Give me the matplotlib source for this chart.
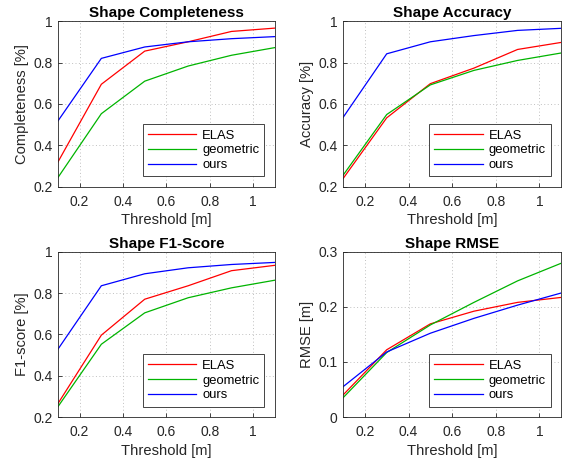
import numpy as np
from matplotlib import pyplot as plt

plt.rcParams['font.family'] = ['Liberation Sans', 'DejaVu Sans']

# Thresholds on the x axis
thresholds = [0.1, 0.3, 0.5, 0.7, 0.9, 1.1]
methods = ["ELAS", "geometric", "ours"]

# Values
completeness_elas = [0.32, 0.695, 0.855, 0.90, 0.95, 0.966]
completeness_geo = [0.245, 0.553, 0.71, 0.783, 0.835, 0.872]
completeness_ours = [0.518, 0.82, 0.875, 0.90, 0.915, 0.925]

accuracy_elas = [0.24, 0.533, 0.698, 0.773, 0.863, 0.897]
accuracy_geo = [0.256, 0.549, 0.692, 0.762, 0.81, 0.846]
accuracy_ours = [0.535, 0.842, 0.90, 0.93, 0.955, 0.965]

f1_elas = [0.265, 0.596, 0.77, 0.835, 0.908, 0.934]
f1_geo = [0.25, 0.552, 0.704, 0.777, 0.825, 0.862]
f1_ours = [0.528, 0.835, 0.893, 0.922, 0.938, 0.948]

rmse_elas = [0.04, 0.122, 0.169, 0.192, 0.208, 0.217]
rmse_geo = [0.035, 0.117, 0.167, 0.208, 0.247, 0.279]
rmse_ours = [0.055, 0.118, 0.152, 0.179, 0.203, 0.225]

colors = ["#ff0000", "#00b400", "#0000ff"]

panels = [
    ("Shape Completeness", "Completeness [%]", [completeness_elas, completeness_geo, completeness_ours],
     (0.2, 1.0), [0.2, 0.4, 0.6, 0.8, 1.0], ["0.2", "0.4", "0.6", "0.8", "1"]),
    ("Shape Accuracy", "Accuracy [%]", [accuracy_elas, accuracy_geo, accuracy_ours],
     (0.2, 1.0), [0.2, 0.4, 0.6, 0.8, 1.0], ["0.2", "0.4", "0.6", "0.8", "1"]),
    ("Shape F1-Score", "F1-score [%]", [f1_elas, f1_geo, f1_ours],
     (0.2, 1.0), [0.2, 0.4, 0.6, 0.8, 1.0], ["0.2", "0.4", "0.6", "0.8", "1"]),
    ("Shape RMSE", "RMSE [m]", [rmse_elas, rmse_geo, rmse_ours],
     (0.0, 0.3), [0.0, 0.1, 0.2, 0.3], ["0", "0.1", "0.2", "0.3"]),
]

# axes rectangles in figure fractions (left, bottom, width, height)
rects = [
    [0.102, 0.592, 0.382, 0.362],
    [0.604, 0.592, 0.384, 0.362],
    [0.102, 0.0895, 0.382, 0.361],
    [0.604, 0.0895, 0.384, 0.361],
]

fig = plt.figure(figsize=(5.68, 4.58), dpi=100)

for rect, (title, ylabel, series, ylim, yticks, yticklabels) in zip(rects, panels):
    ax = fig.add_axes(rect)
    for values, name, c in zip(series, methods, colors):
        ax.plot(thresholds, values, color=c, linewidth=0.9, label=name)
    ax.set_xlim(0.1, 1.1)
    ax.set_ylim(*ylim)
    ax.set_xticks([0.2, 0.4, 0.6, 0.8, 1.0])
    ax.set_xticklabels(["0.2", "0.4", "0.6", "0.8", "1"])
    ax.set_yticks(yticks)
    ax.set_yticklabels(yticklabels)
    ax.grid(True, linestyle=(0, (1, 2.5)), color='#c0c0c0', linewidth=0.7)
    ax.tick_params(direction='in', labelsize=10, colors='#262626', length=3, width=0.6)
    ax.tick_params(axis='x', pad=6)
    ax.tick_params(axis='y', pad=4)
    for s in ax.spines.values():
        s.set_color('#262626')
        s.set_linewidth(0.6)
    ax.set_title(title, fontsize=11, fontweight='bold', pad=3)
    ax.set_xlabel("Threshold [m]", fontsize=10.6, color='#262626', labelpad=3)
    ax.set_ylabel(ylabel, fontsize=10.6, color='#262626', labelpad=3)
    leg = ax.legend(loc='lower right', fontsize=9.4, fancybox=False, framealpha=1,
                    edgecolor='#262626', handlelength=3.7, borderaxespad=0.8,
                    labelspacing=0.2, handletextpad=0.45, borderpad=0.4)
    leg.get_frame().set_linewidth(0.6)

fig.savefig("out.png", dpi=100)
